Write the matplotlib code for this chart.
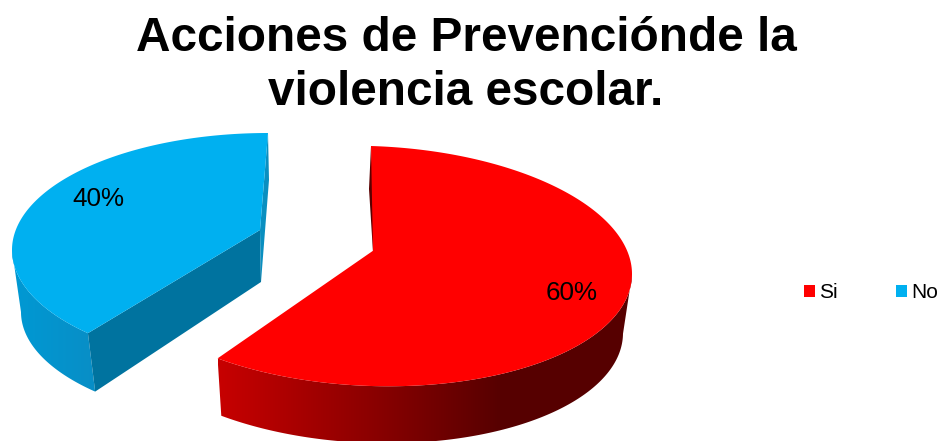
import numpy as np
import matplotlib
matplotlib.use('Agg')
import matplotlib.pyplot as plt
from matplotlib.patches import Patch, Polygon

plt.rcParams['font.family'] = ['Liberation Sans', 'DejaVu Sans']

title = 'Acciones de Prevenciónde la\nviolencia escolar.'
categories = ['Si', 'No']
shares = [60, 40]
labels = ['60%', '40%']
top_colors = ['#ff0000', '#00b0f0']


def rim(theta, geo):
    # theta runs clockwise from 12 o'clock, like the pie in the original
    x = geo['cx'] + geo['rx'] * np.sin(theta)
    y = geo['cy'] - geo['ry'] * np.cos(theta) + geo['tilt'] * np.sin(theta)
    return x, y


def warp(theta, start, end, shift):
    # perspective: the low end of the slice is pushed round a little
    return theta + shift * (end - theta) / (end - start)


def draw_wall(ax, x, y, x2, y2, keep, stops, values):
    # gradient image clipped to the outer wall outline
    px = np.r_[x[keep], x2[keep][::-1]]
    py = np.r_[y[keep], y2[keep][::-1]]
    xs = np.linspace(px.min(), px.max(), 400)
    rgb = np.array([np.interp(xs, stops, [v[k] for v in values]) for k in range(3)]).T[None, :, :]
    im = ax.imshow(rgb, extent=(px.min(), px.max(), py.max(), py.min()), aspect='auto',
                   interpolation='bilinear', zorder=2)
    clip = Polygon(np.c_[px, py], closed=True, transform=ax.transData)
    im.set_clip_path(clip)


def draw_slice(ax, start, end, top, low, apex, notch, shift, color, wall_keep, stops, values):
    theta = np.linspace(start, end, 240)
    t = warp(theta, start, end, np.radians(shift))
    x, y = rim(t, top)
    x2, y2 = rim(t, low)
    draw_wall(ax, x, y, x2, y2, wall_keep(t), stops, values)

    # top surface
    px = list(x) + ([notch[0]] if notch else []) + [apex[0]]
    py = list(y) + ([notch[1]] if notch else []) + [apex[1]]
    ax.fill(px, py, color=color, lw=0, zorder=4)
    return x, y, x2, y2


fig = plt.figure(figsize=(9.39, 4.41), dpi=100)
ax = fig.add_axes([0, 0, 1, 1])

fracs = np.cumsum([0] + shares) / sum(shares) * 2 * np.pi

# red slice
red_top = dict(cx=371, cy=266, rx=261, ry=120, tilt=8)
red_low = dict(cx=370, cy=325, rx=253, ry=118, tilt=8)
red_apex = (373, 252)
red_notch = (377, 248)
x, y, x2, y2 = draw_slice(ax, fracs[0], fracs[1], red_top, red_low, red_apex, red_notch, 0,
                          top_colors[0], lambda a: a > np.radians(90),
                          [219, 400, 500], [(0.78, 0, 0), (0.50, 0, 0), (0.34, 0, 0)])
ax.fill([x[0], x[0] - 2, red_apex[0], red_notch[0]], [y[0], y[0] + 43, red_apex[1], red_notch[1]],
        color='#5a0000', lw=0, zorder=3)

# blue slice
blue_top = dict(cx=268, cy=250, rx=256, ry=117, tilt=0)
blue_low = dict(cx=271, cy=312, rx=250, ry=112, tilt=0)
blue_apex = (260, 230)
x, y, x2, y2 = draw_slice(ax, fracs[1], fracs[2], blue_top, blue_low, blue_apex, None, 8.7,
                          top_colors[1], lambda a: a < np.radians(270),
                          [12, 90], [(0.0, 0.60, 0.83), (0.03, 0.56, 0.78)])
# cut faces of the blue slice
ax.fill([blue_apex[0], x[0], x2[0], blue_apex[0] + 1], [blue_apex[1], y[0], y2[0], blue_apex[1] + 52],
        color='#00739f', lw=0, zorder=3)
ax.fill([x[-1], x[-1] + 1, blue_apex[0] + 1, blue_apex[0]], [y[-1], y[-1] + 47, blue_apex[1] + 52, blue_apex[1]],
        color='#0a8fc0', lw=0, zorder=3)

ax.set_xlim(0, 939)
ax.set_ylim(441, 0)
ax.axis('off')

# data labels
ax.text(572, 292.5, labels[0], fontsize=18.7, ha='center', va='center', color='black', zorder=6)
ax.text(98, 198.5, labels[1], fontsize=18.7, ha='center', va='center', color='black', zorder=6)

ax.text(466, 65.5, title, fontsize=34.4, fontweight='bold', ha='center', va='center',
        linespacing=1.27, color='black')

handles = [Patch(facecolor=c, edgecolor='none') for c in top_colors]
ax.legend(handles, categories, loc='center', bbox_to_anchor=(871 / 939, 1 - 293 / 441), ncol=2,
          frameon=False, fontsize=15, handlelength=0.54, handleheight=0.54,
          handletextpad=0.2, columnspacing=2.8, borderpad=0, borderaxespad=0)

fig.savefig('out.png', dpi=100)
